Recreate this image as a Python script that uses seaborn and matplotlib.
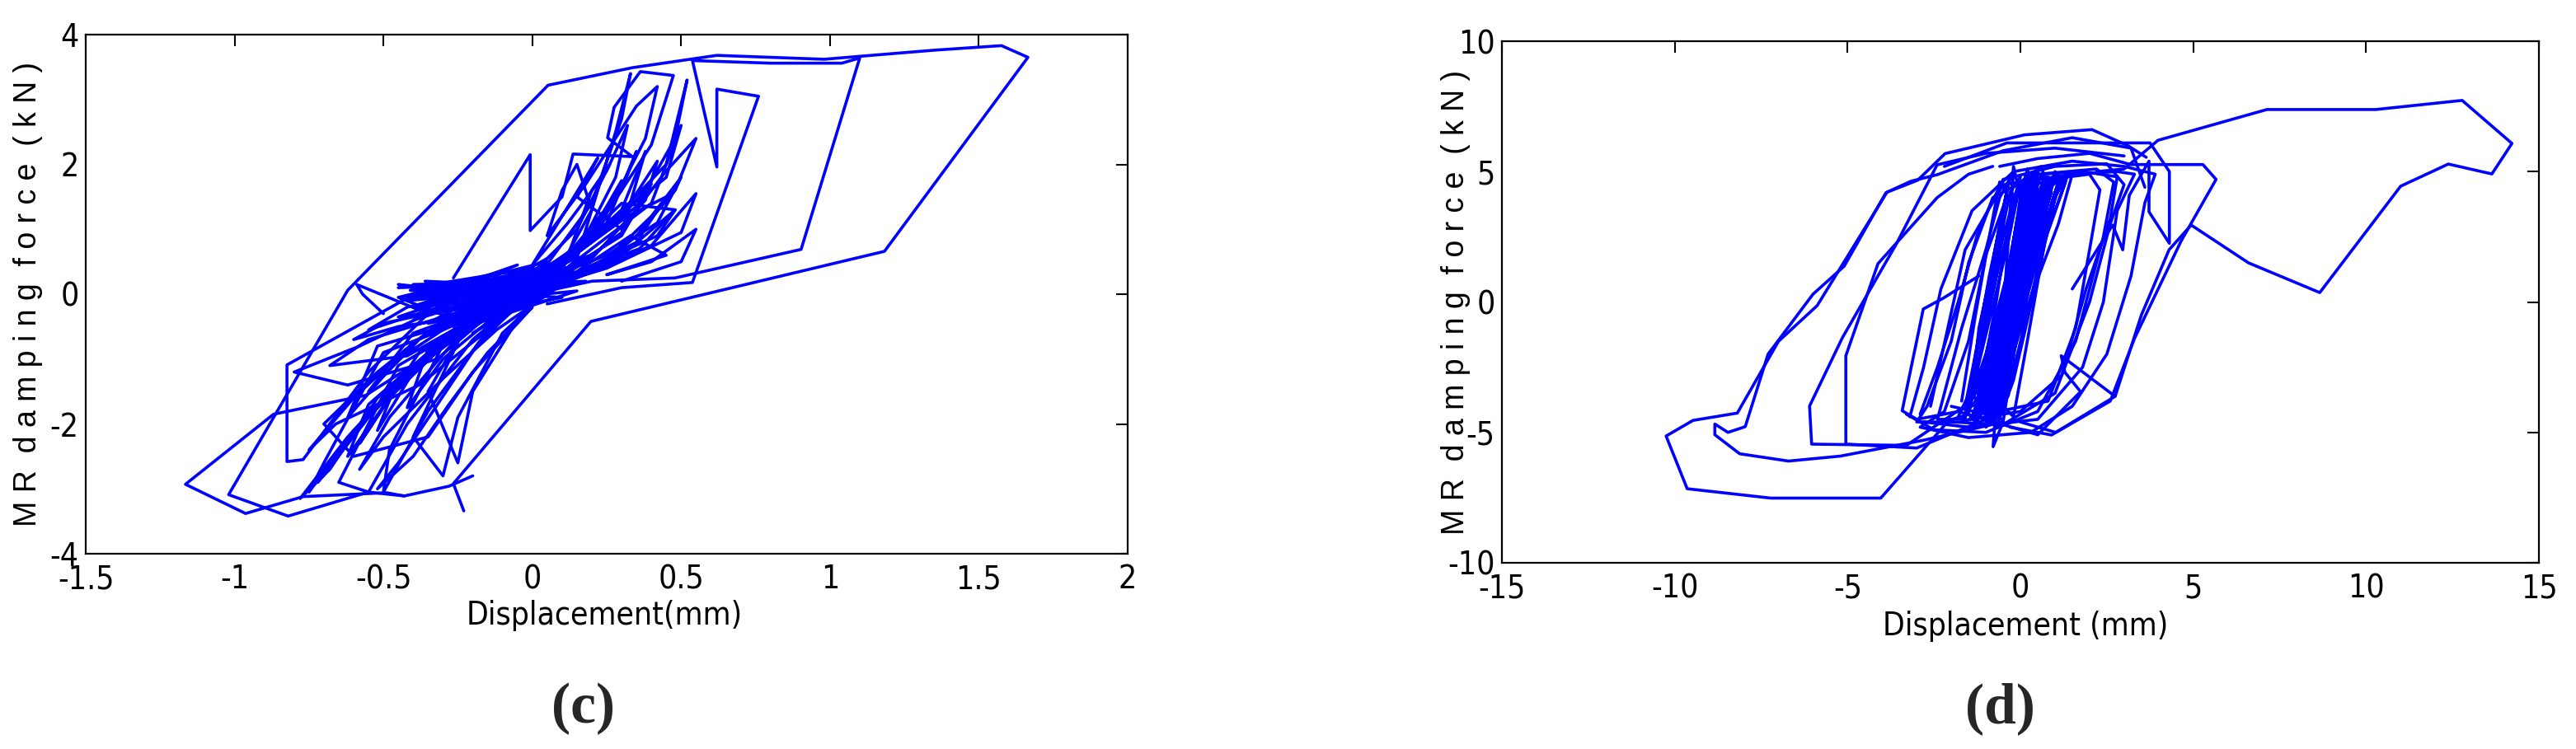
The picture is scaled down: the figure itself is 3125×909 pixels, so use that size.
import numpy as np
import pandas as pd
import seaborn as sns
import matplotlib
matplotlib.use("Agg")
import matplotlib.pyplot as plt
from matplotlib import font_manager
from matplotlib.font_manager import FontProperties

# ---------------- data : panel (c) ----------------
c_xticks = [-1.5, -1, -0.5, 0, 0.5, 1, 1.5, 2]
c_yticks = [-4, -2, 0, 2, 4]
c_xticklabels = ["-1.5", "-1", "-0.5", "0", "0.5", "1", "1.5", "2"]
c_yticklabels = ["-4", "-2", "0", "2", "4"]

c_outer_x = [-0.23, -0.265, 0.197, 1.183, 1.665, 1.576, 1.35, 0.98, 0.62, 0.336, 0.053, -0.62, -1.02, -0.82, -0.55, -0.43]
c_outer_y = [-3.34, -2.92, -0.42, 0.66, 3.65, 3.83, 3.76, 3.62, 3.68, 3.49, 3.22, 0.06, -3.09, -3.42, -3.05, -3.11]

c_loop2_x = [-0.10, 0.20, 0.48, 0.903, 1.10, 1.04, 0.80, 0.538, 0.62, 0.62, 0.76, 0.538, 0.30, 0.05]
c_loop2_y = [-0.10, 0.20, 0.25, 0.69, 3.64, 3.56, 3.56, 3.60, 1.96, 3.16, 3.05, 0.18, 0.10, -0.15]

c_left_x = [-0.20, -0.28, -0.43, -0.49, -0.77, -0.963, -1.165, -0.869, -0.56, -0.30, -0.10]
c_left_y = [-2.80, -2.96, -3.11, -3.06, -3.12, -3.38, -2.93, -1.85, -1.56, -0.80, -0.20]

c_box_x = [-0.325, -0.824, -0.824, -0.77, -0.55, -0.35, -0.59, -0.57, -0.50]
c_box_y = [0.18, -1.09, -2.58, -2.55, -1.20, -0.30, 0.15, 0.00, -0.30]

c_peak_x = [-0.265, -0.007, -0.007, 0.10, 0.137, 0.336, 0.253, 0.275, 0.363, 0.474, 0.40, 0.20, -0.05]
c_peak_y = [0.25, 2.15, 0.98, 1.50, 2.16, 2.12, 2.41, 2.88, 3.43, 3.37, 2.30, 0.90, 0.10]

c_core_x = [-0.05, 0.20, 0.38, 0.42, 0.30, 0.05, -0.20, -0.45, -0.52, -0.40, -0.15, 0.10, 0.30, 0.35, 0.25, 0.00,
            -0.25, -0.55, -0.62, -0.48, -0.20, 0.12, 0.45, 0.50, 0.40, 0.10, -0.30, -0.50, -0.70, -0.75, -0.60, -0.30,
            0.05, 0.22, 0.30, 0.18, -0.10, -0.35, -0.42, -0.30, -0.05, 0.15, 0.25, 0.14, -0.12, -0.38, -0.58, -0.45,
            -0.18, 0.08, 0.35, 0.48, 0.52, 0.45, 0.20, -0.15, -0.45, -0.65, -0.55, -0.42, -0.20, 0.02, 0.28, 0.40,
            0.30, 0.00, -0.28, -0.48, -0.50, -0.35, -0.10, 0.10, 0.20, 0.26, 0.15, -0.05, -0.25, -0.40, -0.55, -0.38,
            -0.15, 0.05, 0.32, 0.45, 0.35, 0.10, -0.20, -0.35, -0.25, -0.20, -0.05, 0.15, 0.28, 0.33, 0.30, 0.20,
            0.00, -0.30, -0.52, -0.62, -0.45, -0.20, 0.00, 0.18, 0.42, 0.48, 0.30, 0.05, -0.22, -0.40, -0.30, -0.25,
            -0.10, 0.10, 0.30, 0.38, 0.30, 0.05, -0.30, -0.45, -0.60, -0.50, -0.25, 0.00, 0.25, 0.50, 0.55, 0.40,
            0.10, -0.15, -0.42, -0.68, -0.55, -0.30, -0.05, 0.18]
c_core_y = [-0.10, 0.55, 1.45, 2.05, 1.20, 0.30, -0.40, -1.30, -2.10, -1.20, -0.20, 0.50, 1.60, 2.20, 1.10, 0.20,
            -0.50, -1.70, -2.50, -1.60, -0.35, 0.60, 1.80, 2.60, 1.40, 0.35, -0.55, -0.90, -2.60, -3.05, -2.10, -0.80,
            0.25, 0.95, 1.75, 0.80, 0.00, -0.85, -1.75, -1.00, -0.05, 0.70, 1.30, 0.55, -0.15, -0.90, -2.30, -1.40,
            -0.30, 0.40, 1.35, 2.40, 3.30, 2.00, 0.80, -0.30, -1.10, -2.90, -3.05, -2.00, -0.70, 0.15, 1.10, 1.70,
            0.90, 0.05, -0.60, -2.40, -3.05, -1.80, -0.25, 0.35, 1.60, 2.00, 1.00, 0.10, -0.35, -0.60, -1.50, -0.70,
            -0.10, 0.30, 1.20, 1.50, 0.80, 0.20, -0.30, -1.50, -2.60, -1.50, -0.40, 0.55, 2.50, 3.40, 2.70, 1.40,
            0.15, -0.50, -0.80, -1.90, -1.00, -0.25, 0.10, 0.40, 0.90, 1.30, 0.60, 0.10, -0.45, -2.20, -2.80, -1.90,
            -0.60, 0.25, 0.95, 2.20, 1.30, 0.25, -0.40, -0.50, -0.70, -0.45, -0.20, 0.05, 0.40, 0.95, 1.55, 0.75,
            0.15, -0.25, -0.95, -1.10, -0.70, -0.35, 0.00, 0.35]

c_band2_x = [-0.72, -0.55, -0.35, -0.10, 0.15, 0.02, -0.25, -0.52, -0.68, -0.78, -0.62, -0.42, -0.22, -0.48, -0.58,
             -0.50, -0.30, -0.12, 0.10, -0.08, -0.38, -0.66, -0.75, -0.60, -0.40, -0.20, 0.05, -0.18, -0.45, -0.52,
             -0.40, -0.28, -0.15, 0.00, -0.20, -0.35, -0.60, -0.70, -0.52, -0.30, -0.05, -0.32, -0.62, -0.80, -0.58,
             -0.35, -0.15, -0.42, -0.55, -0.25]
c_band2_y = [-2.90, -1.90, -0.90, -0.20, 0.45, 0.10, -0.65, -1.60, -2.70, -3.15, -2.20, -1.20, -0.50, -1.90, -2.70,
             -2.20, -1.30, -0.55, 0.15, -0.30, -1.40, -2.00, -2.40, -1.60, -0.75, -0.15, 0.25, -0.75, -2.60, -3.00,
             -2.50, -1.70, -0.90, -0.20, -1.20, -2.20, -2.50, -2.00, -1.20, -0.40, 0.05, -1.00, -1.40, -1.20, -0.80,
             -0.30, 0.10, -0.20, -0.55, -0.10]

c_band3_x = [0.05, 0.18, 0.28, 0.32, 0.25, 0.12, 0.00, 0.10, 0.22, 0.15, 0.30, 0.45, 0.55, 0.48, 0.35, 0.22,
             0.40, 0.50, 0.42, 0.25, 0.08, 0.20, 0.15, 0.10, 0.05, 0.18, 0.35, 0.42, 0.38, 0.28, 0.12, 0.30,
             0.48, 0.36, 0.15, 0.33, 0.45, 0.25, 0.40, 0.55, 0.50, 0.30]
c_band3_y = [0.20, 0.90, 1.80, 2.60, 1.90, 1.10, 0.45, 1.20, 2.10, 1.50, 1.00, 1.90, 2.40, 1.60, 0.90, 0.40,
             1.20, 1.80, 1.10, 0.60, 0.30, 1.30, 2.00, 1.60, 0.90, 1.70, 2.90, 3.20, 2.40, 1.50, 0.60, 1.40,
             1.30, 0.70, 0.35, 0.90, 0.60, 0.30, 0.50, 1.00, 0.50, 0.20]

c_blob_x = [-0.45, -0.15, -0.38, -0.05, -0.42, 0.05, -0.30, -0.10, -0.45, -0.20, 0.00, -0.35, -0.25, 0.10, -0.40,
            -0.15, -0.45, -0.10, -0.30, 0.05, -0.20, -0.38, 0.00, -0.28, -0.05]
c_blob_y = [0.10, 0.15, -0.25, 0.30, -0.10, 0.10, -0.35, 0.35, -0.05, -0.50, 0.20, 0.15, -0.60, 0.30, -0.40,
            0.00, 0.15, -0.20, 0.10, 0.50, -0.30, 0.12, -0.05, -0.45, 0.15]

c_blob2_x = [-0.40, -0.05, -0.38, -0.08, -0.35, -0.02, -0.42, -0.10, -0.36, 0.02, -0.30, -0.06, -0.40, -0.12,
             -0.33, 0.00, -0.44, -0.15, -0.37, -0.04, -0.28, 0.04, -0.41, -0.09]
c_blob2_y = [0.15, 0.18, 0.05, 0.22, -0.05, 0.25, 0.12, -0.02, 0.20, 0.12, -0.12, 0.30, 0.00, 0.08, 0.17,
             0.02, -0.08, 0.20, -0.15, 0.05, 0.16, 0.26, 0.06, -0.10]

c_dense_x = [-0.35, 0.10, -0.30, 0.15, -0.25, 0.05, -0.38, 0.12, -0.30, 0.00, -0.40, 0.08, -0.20, 0.20, -0.35,
             0.00, -0.45, 0.10, -0.28, 0.18, -0.32, 0.02, -0.22, 0.15, -0.40, -0.05, -0.30, 0.10, -0.35, 0.05]
c_dense_y = [-0.30, 0.30, -0.10, 0.45, -0.40, 0.20, -0.05, 0.25, -0.55, 0.40, 0.10, 0.15, -0.60, 0.60, 0.00,
             -0.10, -0.35, 0.50, -0.25, 0.20, 0.10, 0.35, -0.50, 0.05, -0.20, 0.45, 0.05, -0.05, -0.45, 0.55]

# ---------------- data : panel (d) ----------------
d_xticks = [-15, -10, -5, 0, 5, 10, 15]
d_yticks = [-10, -5, 0, 5, 10]
d_xticklabels = ["-15", "-10", "-5", "0", "5", "10", "15"]
d_yticklabels = ["-10", "-5", "0", "5", "10"]

d_right_x = [2.2, 3.0, 3.98, 7.13, 10.28, 12.78, 14.22, 13.64, 12.38, 11.0, 8.66, 6.6, 4.94, 4.3, 3.5, 2.74, 1.02, 0.0]
d_right_y = [5.0, 5.1, 6.2, 7.38, 7.38, 7.73, 6.08, 4.91, 5.29, 4.44, 0.36, 1.5, 2.95, 2.0, -0.5, -3.62, -5.0, -4.6]

d_loop2_x = [-0.6, 0.5, 2.0, 3.19, 5.28, 5.66, 4.65, 3.3, 2.6, 0.9, -0.3]
d_loop2_y = [5.2, 5.5, 5.7, 5.27, 5.27, 4.70, 2.34, -1.4, -3.8, -5.1, -4.8]

d_top_x = [-2.2, -0.39, 3.75, 4.31, 4.31, 3.72, 3.72, 3.15, 2.96, 2.67, 1.5]
d_top_y = [5.2, 6.10, 6.10, 5.00, 2.25, 3.46, 5.40, 4.09, 2.00, 2.95, 0.5]

d_left1_x = [-1.5, -2.07, -4.04, -7.22, -9.64, -10.25, -9.47, -8.19, -7.0, -5.88, -3.86, -2.97, -2.18, 0.12, 2.07, 3.1, 3.64]
d_left1_y = [-4.3, -4.54, -7.52, -7.52, -7.16, -5.14, -4.54, -4.26, -1.51, -0.14, 4.21, 4.67, 5.69, 6.41, 6.61, 6.0, 5.55]

d_left2_x = [-0.5, -2.8, -5.21, -6.71, -8.12, -8.84, -8.84, -8.46, -7.96, -7.3, -6.0, -5.1, -3.89, -3.17, -2.41, -0.5, 1.5, 3.2, 3.6]
d_left2_y = [-4.6, -5.3, -5.91, -6.10, -5.82, -5.09, -4.68, -5.00, -4.78, -2.0, 0.3, 1.37, 4.19, 4.63, 4.88, 5.8, 6.3, 5.9, 4.4]

d_left3_x = [-1.5, -3.3, -3.75, -6.04, -6.1, -5.15, -3.6, -2.41, -1.0, 1.0, 3.0]
d_left3_y = [-3.9, -5.5, -5.49, -5.45, -3.99, -1.37, 2.2, 5.26, 5.7, 5.9, 5.6]

d_left4_x = [-1.0, -3.0, -5.05, -5.05, -4.12, -2.41, -1.5, -0.8]
d_left4_y = [-4.5, -5.6, -5.45, -2.06, 1.47, 4.0, 4.9, 5.2]

d_hook_x = [-1.2, -2.24, -2.81, -3.42, -3.0, -1.8, 0.5, 1.74, 1.29, 1.18, 2.74]
d_hook_y = [1.0, 0.14, -0.27, -4.17, -4.5, -4.2, -5.09, -3.44, -2.7, -2.06, -3.62]

d_mid1_x = [-3.3, -2.5, -1.0, 0.5, 1.6, 2.4, 2.7, 2.2, 0.5, -0.8, -1.5, -2.0, -2.7, -3.0, -2.0, -0.5, 1.0, 2.0,
            2.6, 3.0, 2.5, 1.0, -0.5, -1.2, -1.8, -2.4, -2.9]
d_mid1_y = [-4.3, -4.9, -5.0, -4.2, -1.5, 2.5, 4.6, 5.1, 4.9, 4.0, 1.5, -1.5, -4.0, -4.6, -4.6, -4.7, -3.5, 0.0,
            3.0, 4.5, 5.3, 5.2, 4.7, 2.8, 0.0, -2.5, -4.3]

d_mid2_x = [-1.8, -1.3, -1.0, -0.5, 0.0, -0.3, -0.8, -1.3, -1.6, -2.4, -1.7, -1.0, -0.6, -0.2, -0.79, -0.5]
d_mid2_y = [-4.4, -3.0, -0.5, 2.5, 4.8, 4.2, 1.0, -2.0, -4.5, -4.5, -1.0, 2.0, 4.0, 5.0, -5.55, -4.6]

d_mid3_x = [-2.8, -1.5, 0.5, 1.8, 2.4, 2.8, 3.3, 2.8, 1.5, -0.5, -1.6, -2.1, -2.6]
d_mid3_y = [-4.6, -4.8, -4.5, -2.5, 0.0, 3.5, 4.9, 5.0, 4.9, 4.5, 2.0, -1.0, -4.0]

d_mid4_x = [-2.0, -1.0, 0.8, 1.6, 2.0, 2.3, 2.0, 0.8, -0.4, -1.0, -1.5, -2.2, -2.9, -1.5, 0.3, 1.5, 2.5, 3.2,
            3.6, 3.9, 3.0, 1.5, -0.2, -1.4, -2.3, -2.8, -3.2]
d_mid4_y = [-4.0, -4.3, -3.8, -1.0, 2.0, 4.3, 4.9, 4.7, 4.0, 1.8, -1.5, -4.2, -4.8, -5.2, -5.0, -4.0, -2.0, 1.0,
            3.8, 4.9, 5.2, 5.4, 5.0, 3.5, 0.5, -2.5, -4.4]

d_mid5_x = [-1.5, 0.0, 1.2, 1.9, 2.6, 2.8, 1.8, 0.6]
d_mid5_y = [-4.5, -4.2, -2.8, 0.5, 3.2, 4.8, 5.0, 4.9]

d_core_x = [-1.2, -0.6, 0.2, 0.5, 0.3, -0.4, -1.0, -0.8, -0.3, 0.3, 0.7, 0.6, -0.2, -0.9, -1.4, -0.9, -0.1, 0.4,
            0.2, 0.0, -0.5, -1.1, -1.5, -1.2, -0.4, 0.1, 0.6, 0.9, 0.5, -0.3, -0.7, -0.5, -0.2, 0.4, 0.8, 1.0,
            0.7, 0.0, -0.6, -1.0, -0.7, -0.1, 0.3, 0.4, 0.2, -0.3, -0.8, -1.3, -1.6, -1.0, -0.3, 0.0, -0.2, -0.3,
            -0.7, -1.2, -0.9, -0.4, 0.2, 0.6, 1.2, 0.9, 0.2, -0.5, -0.8, -0.6, 0.0, 0.5, 0.9, 0.7, 0.3, -0.4,
            -1.1, -1.3, -0.8, -0.2, 0.3, 0.5, 0.3, -0.2, -0.9, -1.4, -0.6, 0.1, 0.8, 1.5, 1.1, 0.3, -0.5, -1.0,
            -0.5, 0.1, 0.7, 1.3, 1.0, 0.5, -0.3, -1.2, -1.7, -1.0, -0.3, 0.2, 0.4, 0.1, -0.4, -1.0, -0.7, -0.2,
            0.5, 1.0, 1.4, 1.2, 0.4, -0.6, -1.5, -1.1, -0.4, 0.0, 0.6, 0.8, 0.1, -0.8, -1.3]
d_core_y = [-4.2, -1.0, 3.0, 4.8, 2.0, -1.5, -4.0, -4.5, -1.0, 2.5, 4.6, 3.0, -0.5, -3.5, -4.4, -2.5, 1.0, 4.0,
            5.1, 3.5, 0.0, -3.0, -4.0, -3.0, 0.5, 3.0, 4.9, 4.5, 2.0, -1.8, -4.2, -4.6, -2.0, 1.5, 4.2, 4.9,
            3.2, 0.0, -3.0, -4.6, -3.0, 0.5, 3.5, 4.7, 3.8, 0.5, -2.5, -3.8, -4.3, -2.0, 1.5, 4.0, 5.2, 3.5,
            0.0, -3.5, -4.4, -2.0, 1.8, 4.4, 4.8, 3.5, 0.5, -2.8, -4.0, -3.6, -0.5, 2.8, 4.2, 4.9, 3.0, -0.8,
            -4.2, -4.7, -2.8, 0.8, 4.2, 5.0, 4.2, 1.0, -3.0, -4.5, -2.0, 2.0, 4.4, 4.9, 3.0, 0.2, -3.2, -4.8,
            -4.2, -1.0, 2.4, 4.6, 5.0, 3.0, -1.5, -4.4, -4.6, -2.5, 1.0, 4.0, 4.9, 4.5, 1.0, -3.0, -4.8, -3.0,
            1.0, 4.0, 5.0, 4.2, 1.2, -3.8, -4.0, -1.8, 2.0, 4.6, 5.2, 4.4, 1.5, -3.2, -4.1]

d_core2_x = [-1.6, -1.3, -0.9, -0.5, -0.3, -0.6, -1.0, -1.4, -1.0, -0.6, -0.2, 0.2, 0.4, 0.1, -0.3, -0.7, -1.2,
             -0.9, -0.4, 0.0, 0.3, -0.1, -0.6, -1.1, -1.5, -1.3, -0.8, -0.3, 0.1, 0.5, 0.2, -0.2, -0.8, -1.1,
             -0.6, 0.0, 0.5, 0.8, 0.4, -0.1, -0.5, -0.2, 0.2, 0.6, 0.9, 1.1, 0.6, 0.0, -0.4, -0.9, -1.4, -1.2,
             -0.7, -0.4, -0.6, -0.9, -1.3, -1.7]
d_core2_y = [-4.0, -2.0, 1.0, 3.5, 4.8, 3.0, 0.0, -3.0, -4.2, -2.5, 0.5, 3.5, 4.5, 2.5, -0.5, -3.5, -4.4,
             -3.0, 0.0, 2.8, 4.9, 4.0, 1.5, -1.5, -4.3, -4.6, -2.0, 1.0, 3.8, 4.6, 3.0, 0.0, -3.8, -3.9,
             -1.0, 2.0, 4.2, 4.8, 2.0, -1.0, -4.0, -4.4, -1.5, 1.5, 3.8, 4.6, 2.5, -0.8, -3.2, -4.5, -3.5, -1.0,
             2.0, 4.2, 4.6, 2.5, -0.5, -3.8]

d_col_x = [-0.6, 0.3, -0.5, 0.4, -0.7, 0.2, -0.4, 0.5, -0.8, 0.1, -0.5, 0.35, -0.65, 0.25, -0.45, 0.45, -0.75,
           0.15, -0.55, 0.3, -0.35, 0.5, -0.85, 0.05, -0.6, 0.4, -0.7, 0.2, -0.5, 0.35]
d_col_y = [-3.8, 4.6, -3.5, 4.3, -4.0, 4.7, -3.0, 4.5, -4.2, 4.4, -3.9, 4.8, -4.3, 4.2, -3.3, 4.6, -3.7,
           4.9, -4.1, 4.0, -3.6, 4.7, -4.4, 4.5, -3.2, 4.9, -4.5, 4.4, -3.7, 4.1]

# ---------------- build tables ----------------
def table(paths):
    rows = []
    for name, xs, ys in paths:
        for i, (xv, yv) in enumerate(zip(xs, ys)):
            rows.append({"path": name, "order": i, "x": xv, "y": yv})
    return pd.DataFrame(rows)

df_c = table([
    ("outer", c_outer_x, c_outer_y),
    ("loop2", c_loop2_x, c_loop2_y),
    ("left", c_left_x, c_left_y),
    ("box", c_box_x, c_box_y),
    ("peak", c_peak_x, c_peak_y),
    ("core", c_core_x, c_core_y),
    ("band2", c_band2_x, c_band2_y),
    ("band3", c_band3_x, c_band3_y),
    ("blob", c_blob_x, c_blob_y),
    ("blob2", c_blob2_x, c_blob2_y),
    ("dense", c_dense_x, c_dense_y),
])
df_d = table([
    ("right", d_right_x, d_right_y),
    ("loop2", d_loop2_x, d_loop2_y),
    ("top", d_top_x, d_top_y),
    ("left1", d_left1_x, d_left1_y),
    ("left2", d_left2_x, d_left2_y),
    ("left3", d_left3_x, d_left3_y),
    ("left4", d_left4_x, d_left4_y),
    ("hook", d_hook_x, d_hook_y),
    ("mid1", d_mid1_x, d_mid1_y),
    ("mid2", d_mid2_x, d_mid2_y),
    ("mid3", d_mid3_x, d_mid3_y),
    ("mid4", d_mid4_x, d_mid4_y),
    ("mid5", d_mid5_x, d_mid5_y),
    ("core", d_core_x, d_core_y),
    ("core2", d_core2_x, d_core2_y),
    ("col", d_col_x, d_col_y),
])

# ---------------- style ----------------
sns.set_theme(style="white")
plt.rcParams["font.family"] = ["Liberation Sans", "DejaVu Sans"]
plt.rcParams["axes.unicode_minus"] = False

# a narrow sans face if one is installed, else Liberation Sans
flist = font_manager.fontManager.ttflist
narrow_file = None
for f in flist:
    if f.name == "Liberation Sans Narrow" and f.weight in (400, "normal", "regular") and f.style == "normal":
        narrow_file = f.fname
        break
if narrow_file is None:
    for f in flist:
        if f.name == "DejaVu Sans" and f.stretch == "condensed" and f.style == "normal" \
                and f.weight in (400, "normal", "book", "regular"):
            narrow_file = f.fname
            break

def narrow_fp(size):
    if narrow_file is not None:
        return FontProperties(fname=narrow_file, size=size)
    return FontProperties(family="Liberation Sans", size=size)

tick_size = 28 if narrow_file else 25

fig = plt.figure(figsize=(31.25, 9.09), dpi=100)
ax_c = fig.add_axes([104 / 3125, 1 - 672 / 909, 1264 / 3125, 630 / 909])
ax_d = fig.add_axes([1822 / 3125, 1 - 683 / 909, 1258 / 3125, 633 / 909])

line_kw = dict(estimator=None, sort=False, units="path", color="#0000ff", linewidth=2.6, legend=False)
sns.lineplot(data=df_c, x="x", y="y", ax=ax_c, **line_kw)
sns.lineplot(data=df_d, x="x", y="y", ax=ax_d, **line_kw)


def style(ax, xt, xtl, yt, ytl, xlab, ylab_coord, xlab_coord):
    ax.set_xlim(xt[0], xt[-1])
    ax.set_ylim(yt[0], yt[-1])
    ax.set_xticks(xt)
    ax.set_xticklabels(xtl, fontproperties=narrow_fp(tick_size))
    ax.set_yticks(yt)
    ax.set_yticklabels(ytl, fontproperties=narrow_fp(tick_size))
    ax.tick_params(direction="in", top=True, right=True, length=10, width=1.5,
                   colors="black", pad=9)
    ax.tick_params(axis="y", pad=6)
    for s in ax.spines.values():
        s.set_visible(True)
        s.set_color("black")
        s.set_linewidth(1.6)
    ax.set_xlabel(xlab, fontproperties=narrow_fp(tick_size), color="black")
    ax.set_ylabel("M R  d a m p i n g  f o r c e  ( k N )", fontsize=27,
                  family=["Liberation Sans", "DejaVu Sans"], color="black")
    ax.yaxis.set_label_coords(*ylab_coord)
    ax.yaxis.label.set_va("center")
    ax.xaxis.set_label_coords(*xlab_coord)
    ax.xaxis.label.set_va("center")
    ax.grid(False)

style(ax_c, c_xticks, c_xticklabels, c_yticks, c_yticklabels, "Displacement(mm)",
      ((34 - 104) / 1264, 0.5), ((733 - 104) / 1264, (672 - 747) / 630))
style(ax_d, d_xticks, d_xticklabels, d_yticks, d_yticklabels, "Displacement (mm)",
      ((1766 - 1822) / 1258, 0.5), ((2457 - 1822) / 1258, (683 - 760) / 633))

fig.text(708 / 3125, 1 - 860 / 909, "(c)", ha="center", va="center", fontsize=50,
         family=["Liberation Serif", "DejaVu Serif"], weight="bold")
fig.text(2426 / 3125, 1 - 860 / 909, "(d)", ha="center", va="center", fontsize=50,
         family=["Liberation Serif", "DejaVu Serif"], weight="bold")

fig.savefig("out.png", dpi=100, facecolor="white")
